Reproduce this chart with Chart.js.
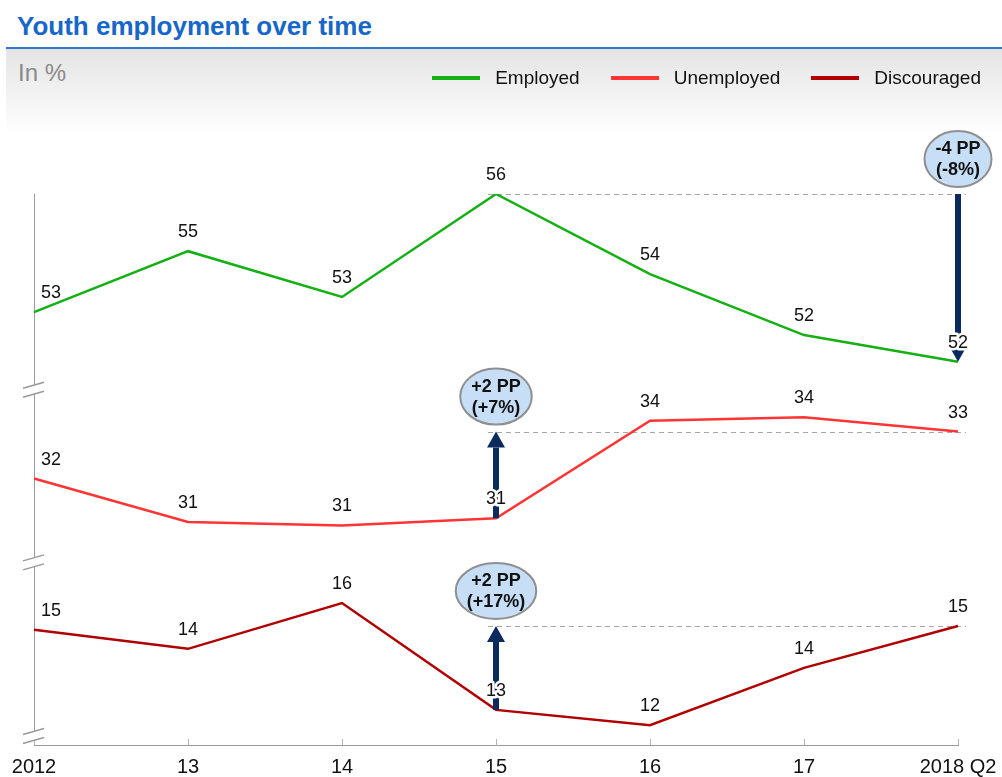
<!DOCTYPE html>
<html>
<head>
<meta charset="utf-8">
<script src="https://cdn.jsdelivr.net/npm/chart.js@4.4.1/dist/chart.umd.min.js"></script>
<style>
  body { margin: 0; width: 1002px; height: 777px; overflow: hidden; background: #fff; font-family: 'Liberation Sans', Arial, sans-serif; }
  #band { position: absolute; left: 6px; right: 0; top: 49px; height: 85px; background: linear-gradient(#e4e4e4, #ffffff); }
  #rule { position: absolute; left: 6px; right: 0; top: 47px; height: 2px; background: #2b7bd0; }
  #title { position: absolute; left: 17px; top: 11px; font-size: 26px; font-weight: bold; color: #1767c8; line-height: 30px; }
  #unit { position: absolute; left: 18px; top: 59px; font-size: 24px; color: #8a8a8a; line-height: 28px; }
  #legend { position: absolute; right: 21px; top: 66px; display: flex; font-size: 19px; color: #111; line-height: 24px; }
  #legend .item { display: flex; align-items: center; margin-left: 31px; }
  #legend .swatch { width: 48px; height: 4px; margin-right: 15px; }
  #wrap { position: absolute; left: 0; top: 0; width: 1002px; height: 789px; }
</style>
</head>
<body>
<div id="band"></div>
<div id="rule"></div>
<div id="title">Youth employment over time</div>
<div id="unit">In %</div>
<div id="wrap"><canvas id="grafico"></canvas></div>
<div id="legend"></div>

<script>
// dados
const anos = ['2012', '13', '14', '15', '16', '17', '2018 Q2']
const seriesNomes = ['Employed', 'Unemployed', 'Discouraged']
const empregados = [53.1, 54.7, 53.5, 56.2, 54.1, 52.5, 51.8]
const desempregados = [32.1, 30.9, 30.8, 31.0, 33.7, 33.8, 33.4]
const desalentados = [15.1, 14.6, 15.8, 13.0, 12.6, 14.1, 15.2]
const empregadosRotulos = ['53', '55', '53', '56', '54', '52', '52']
const desempregadosRotulos = ['32', '31', '31', '31', '34', '34', '33']
const desalentadosRotulos = ['15', '14', '16', '13', '12', '14', '15']

// variacoes 2015 -> 2018 Q2
const variacoes = [
  { serie: 0, de: 3, ate: 6, textos: ['-4 PP', '(-8%)'] },
  { serie: 1, de: 3, ate: 6, textos: ['+2 PP', '(+7%)'] },
  { serie: 2, de: 3, ate: 6, textos: ['+2 PP', '(+17%)'] }
]

const cores = ['#14b014', '#ff3535', '#b00000']
const fonte = "'Liberation Sans', Arial, sans-serif"
const rotulos = [empregadosRotulos, desempregadosRotulos, desalentadosRotulos]

function quebra(ctx, x, yc) {
  ctx.save()
  ctx.fillStyle = '#fff'
  ctx.beginPath()
  ctx.moveTo(x - 11, yc - 1.5)
  ctx.lineTo(x + 10, yc - 7.5)
  ctx.lineTo(x + 10, yc + 1.5)
  ctx.lineTo(x - 11, yc + 7.5)
  ctx.closePath()
  ctx.fill()
  ctx.strokeStyle = '#999'
  ctx.lineWidth = 1.5
  ctx.beginPath()
  ctx.moveTo(x - 11, yc - 1.5); ctx.lineTo(x + 10, yc - 7.5)
  ctx.moveTo(x - 11, yc + 7.5); ctx.lineTo(x + 10, yc + 1.5)
  ctx.stroke()
  ctx.restore()
}

const eixosPlugin = {
  id: 'eixos',
  beforeDatasetsDraw(chart) {
    const ctx = chart.ctx
    const area = chart.chartArea
    const xs = chart.scales.x
    ctx.save()
    // eixo vertical
    ctx.strokeStyle = '#9a9a9a'
    ctx.lineWidth = 1
    ctx.beginPath()
    ctx.moveTo(area.left + 0.5, area.top)
    ctx.lineTo(area.left + 0.5, area.bottom)
    ctx.stroke()
    // marcas do eixo x
    ctx.strokeStyle = '#b5b5b5'
    anos.forEach((a, i) => {
      const x = Math.round(xs.getPixelForValue(i)) + 0.5
      ctx.beginPath()
      ctx.moveTo(x, area.bottom)
      ctx.lineTo(x, area.bottom - 6)
      ctx.stroke()
    })
    // linhas tracejadas de referencia
    ctx.strokeStyle = '#a8a8a8'
    ctx.setLineDash([5, 4])
    variacoes.forEach(v => {
      const meta = chart.getDatasetMeta(v.serie)
      const p0 = meta.data[v.de], p1 = meta.data[v.ate]
      const y = Math.round(p1.y < p0.y ? p1.y : p0.y) + 0.5
      ctx.beginPath()
      ctx.moveTo(p0.x - 8, y)
      ctx.lineTo(p1.x + 8, y)
      ctx.stroke()
    })
    ctx.restore()
    ;['yEmp', 'yDes', 'yDis'].forEach(id => quebra(ctx, area.left, chart.scales[id].bottom - 9))
  },
  afterDatasetsDraw(chart) {
    const ctx = chart.ctx
    ctx.save()
    // setas
    ctx.fillStyle = '#0b2a5e'
    variacoes.forEach(v => {
      const meta = chart.getDatasetMeta(v.serie)
      const p0 = meta.data[v.de], p1 = meta.data[v.ate]
      const desce = p1.y > p0.y
      const x = desce ? p1.x : p0.x
      const dir = desce ? 1 : -1
      const base = p1.y - dir * 16
      ctx.fillRect(x - 3, Math.min(p0.y, base), 6, Math.abs(base - p0.y))
      ctx.beginPath()
      ctx.moveTo(x - 9, base)
      ctx.lineTo(x + 9, base)
      ctx.lineTo(x, p1.y)
      ctx.closePath()
      ctx.fill()
    })
    // rotulos de valores
    ctx.font = '18px ' + fonte
    ctx.textAlign = 'center'
    ctx.textBaseline = 'middle'
    ctx.lineJoin = 'round'
    chart.data.datasets.forEach((ds, i) => {
      chart.getDatasetMeta(i).data.forEach((pt, j) => {
        const x = pt.x + (j === 0 ? 17 : 0)
        const y = pt.y - 19
        ctx.strokeStyle = '#fff'
        ctx.lineWidth = 5
        ctx.strokeText(rotulos[i][j], x, y)
        ctx.fillStyle = '#111'
        ctx.fillText(rotulos[i][j], x, y)
      })
    })
    // baloes
    ctx.font = 'bold 18px ' + fonte
    variacoes.forEach(v => {
      const meta = chart.getDatasetMeta(v.serie)
      const p0 = meta.data[v.de], p1 = meta.data[v.ate]
      const x = p1.y > p0.y ? p1.x : p0.x
      const cy = Math.min(p0.y, p1.y) - 35
      const larg = Math.max(...v.textos.map(t => ctx.measureText(t).width))
      ctx.beginPath()
      ctx.ellipse(x, cy, larg / 2 + 11, 28, 0, 0, Math.PI * 2)
      ctx.fillStyle = '#c6def6'
      ctx.fill()
      ctx.strokeStyle = '#8f8f8f'
      ctx.lineWidth = 2
      ctx.stroke()
      ctx.fillStyle = '#111'
      ctx.fillText(v.textos[0], x, cy - 10)
      ctx.fillText(v.textos[1], x, cy + 11)
    })
    ctx.restore()
  }
}

Chart.defaults.font.family = fonte

const grafico = new Chart(document.getElementById('grafico'), {
  type: 'line',
  data: {
    labels: anos,
    datasets: [
      { label: seriesNomes[0], data: empregados, yAxisID: 'yEmp', borderColor: cores[0], backgroundColor: cores[0] },
      { label: seriesNomes[1], data: desempregados, yAxisID: 'yDes', borderColor: cores[1], backgroundColor: cores[1] },
      { label: seriesNomes[2], data: desalentados, yAxisID: 'yDis', borderColor: cores[2], backgroundColor: cores[2] }
    ]
  },
  options: {
    responsive: true,
    maintainAspectRatio: false,
    animation: false,
    layout: { padding: { top: 194, left: 34, right: 44, bottom: 0 } },
    elements: {
      line: { borderWidth: 2.5, tension: 0 },
      point: { radius: 0 }
    },
    plugins: { legend: { display: false }, tooltip: { enabled: false } },
    scales: {
      x: {
        offset: false,
        grid: { display: false, drawTicks: false },
        border: { display: true, color: '#9a9a9a', width: 1 },
        ticks: { padding: 10, color: '#111', font: { size: 20 }, maxRotation: 0, autoSkip: false },
        afterFit(scale) {
          scale.paddingLeft = 0
          scale.paddingRight = 0
        }
      },
      yDis: { display: false, stack: 'paineis', stackWeight: 173, min: 12.08, max: 16.63 },
      yDes: { display: false, stack: 'paineis', stackWeight: 172, min: 29.53, max: 34.31 },
      yEmp: { display: false, stack: 'paineis', stackWeight: 204, min: 50.83, max: 56.2 }
    }
  },
  plugins: [eixosPlugin]
})

// legenda em html
let legendaDiv = document.getElementById('legend')
grafico.data.datasets.forEach(ds => {
  legendaDiv.innerHTML += `
    <div class="item"><div class="swatch" style="background:${ds.borderColor}"></div>${ds.label}</div>
  `
})
</script>
</body>
</html>
